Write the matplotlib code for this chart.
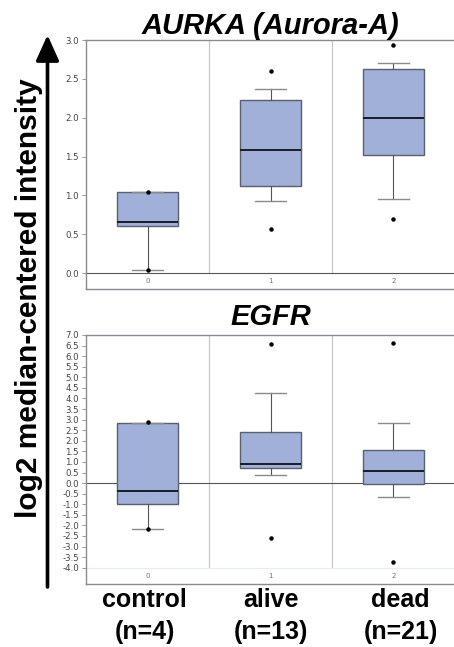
import matplotlib
matplotlib.use('Agg')
import matplotlib.pyplot as plt

plt.rcParams['font.family'] = ['Liberation Sans', 'DejaVu Sans']

# Grupos
grupos = [0, 1, 2]
rotulos = ['control\n(n=4)', 'alive\n(n=13)', 'dead\n(n=21)']
desloc = [-3, 0, 7]

# AURKA (Aurora-A) - estatisticas
aurka_q1 = [0.61, 1.12, 1.52]
aurka_med = [0.66, 1.59, 1.99]
aurka_q3 = [1.04, 2.23, 2.63]
aurka_wlo = [0.04, 0.93, 0.95]
aurka_whi = [1.04, 2.37, 2.70]
aurka_pts = [[0.04, 1.04], [2.60, 0.57], [2.94, 0.69]]

# EGFR
egfr_q1 = [-0.99, 0.73, -0.03]
egfr_med = [-0.39, 0.88, 0.55]
egfr_q3 = [2.86, 2.40, 1.55]
egfr_wlo = [-2.17, 0.36, -0.66]
egfr_whi = [2.86, 4.27, 2.85]
egfr_pts = [[2.88, -2.17], [6.56, -2.60], [6.63, -3.73]]

cor_caixa = '#a0b0d8'


def painel(ax, q1, med, q3, wlo, whi, pts, ymin, ymax, ybase, yticks, titulo, pad):
    stats = []
    for i in range(len(grupos)):
        stats.append(dict(q1=q1[i], med=med[i], q3=q3[i], whislo=wlo[i],
                          whishi=whi[i], fliers=pts[i]))
    ax.bxp(stats, positions=grupos, widths=0.5, patch_artist=True,
           boxprops=dict(facecolor=cor_caixa, edgecolor='#5a6070', linewidth=1.0),
           medianprops=dict(color='#1a1a28', linewidth=1.4),
           whiskerprops=dict(color='#555555', linewidth=0.8),
           capprops=dict(color='#8a8a8a', linewidth=1.0),
           flierprops=dict(marker='o', markersize=2.2, markerfacecolor='black',
                           markeredgecolor='black'),
           showfliers=True)
    ax.set_xlim(-0.5, 2.5)
    ax.set_ylim(ymin, ymax)
    for xs in [0.5, 1.5]:
        ax.plot([xs, xs], [ybase, ymax], color='#c8c8c8', linewidth=0.9, zorder=0)
    ax.axhline(0, color='#555555', linewidth=0.8, zorder=1)
    if ybase != 0:
        ax.axhline(ybase, color='#e6ecf2', linewidth=0.8, zorder=0)
    ax.set_yticks(yticks)
    ax.set_yticklabels(['%.1f' % v for v in yticks], fontsize=6.2, color='#444444',
                       family='DejaVu Sans')
    ax.tick_params(axis='y', length=3, width=0.6, color='#888888', pad=2)
    ax.set_xticks([])
    for g in grupos:
        ax.text(g, (ymin + ybase) / 2, str(g), ha='center', va='center',
                fontsize=5, color='#6070a0', family='DejaVu Sans')
    for lado in ['left', 'top', 'bottom']:
        ax.spines[lado].set_color('#8a8a96')
        ax.spines[lado].set_linewidth(1.0)
    ax.spines['right'].set_visible(False)
    ax.set_title(titulo, fontsize=21, fontweight='bold', style='italic', pad=pad)


fig = plt.figure(figsize=(4.54, 6.47), dpi=100)
ax1 = fig.add_axes([86 / 454, 1 - 289 / 647, 369 / 454, 249 / 647])
ax2 = fig.add_axes([86 / 454, 1 - 584 / 647, 369 / 454, 249 / 647])

painel(ax1, aurka_q1, aurka_med, aurka_q3, aurka_wlo, aurka_whi, aurka_pts,
       -0.206, 3.0, 0.0, [0.0, 0.5, 1.0, 1.5, 2.0, 2.5, 3.0], 'AURKA (Aurora-A)', 4)
painel(ax2, egfr_q1, egfr_med, egfr_q3, egfr_wlo, egfr_whi, egfr_pts,
       -4.77, 7.0, -4.0, [7.0 - 0.5 * k for k in range(23)], 'EGFR', 7)

# rotulos dos grupos abaixo
for g, r, d in zip(grupos, rotulos, desloc):
    ax2.annotate(r, xy=(g, 0), xycoords=('data', 'axes fraction'),
                 xytext=(d * 0.72, -3), textcoords='offset points', ha='center',
                 va='top', fontsize=18, fontweight='bold', linespacing=1.4,
                 annotation_clip=False)

# rotulo do eixo y com seta
fig.text(29 / 454, 1 - 298 / 647, 'log2 median-centered intensity', rotation=90,
         ha='center', va='center', fontsize=21.5, fontweight='bold')
fig.add_artist(matplotlib.patches.FancyArrowPatch(
    (47.5 / 454, 1 - 587 / 647), (47.5 / 454, 1 - 35 / 647),
    transform=fig.transFigure, arrowstyle='-|>,head_length=6,head_width=2.7',
    color='black', linewidth=2.6, mutation_scale=2.6, shrinkA=0, shrinkB=0))

fig.savefig('out.png', dpi=100)
